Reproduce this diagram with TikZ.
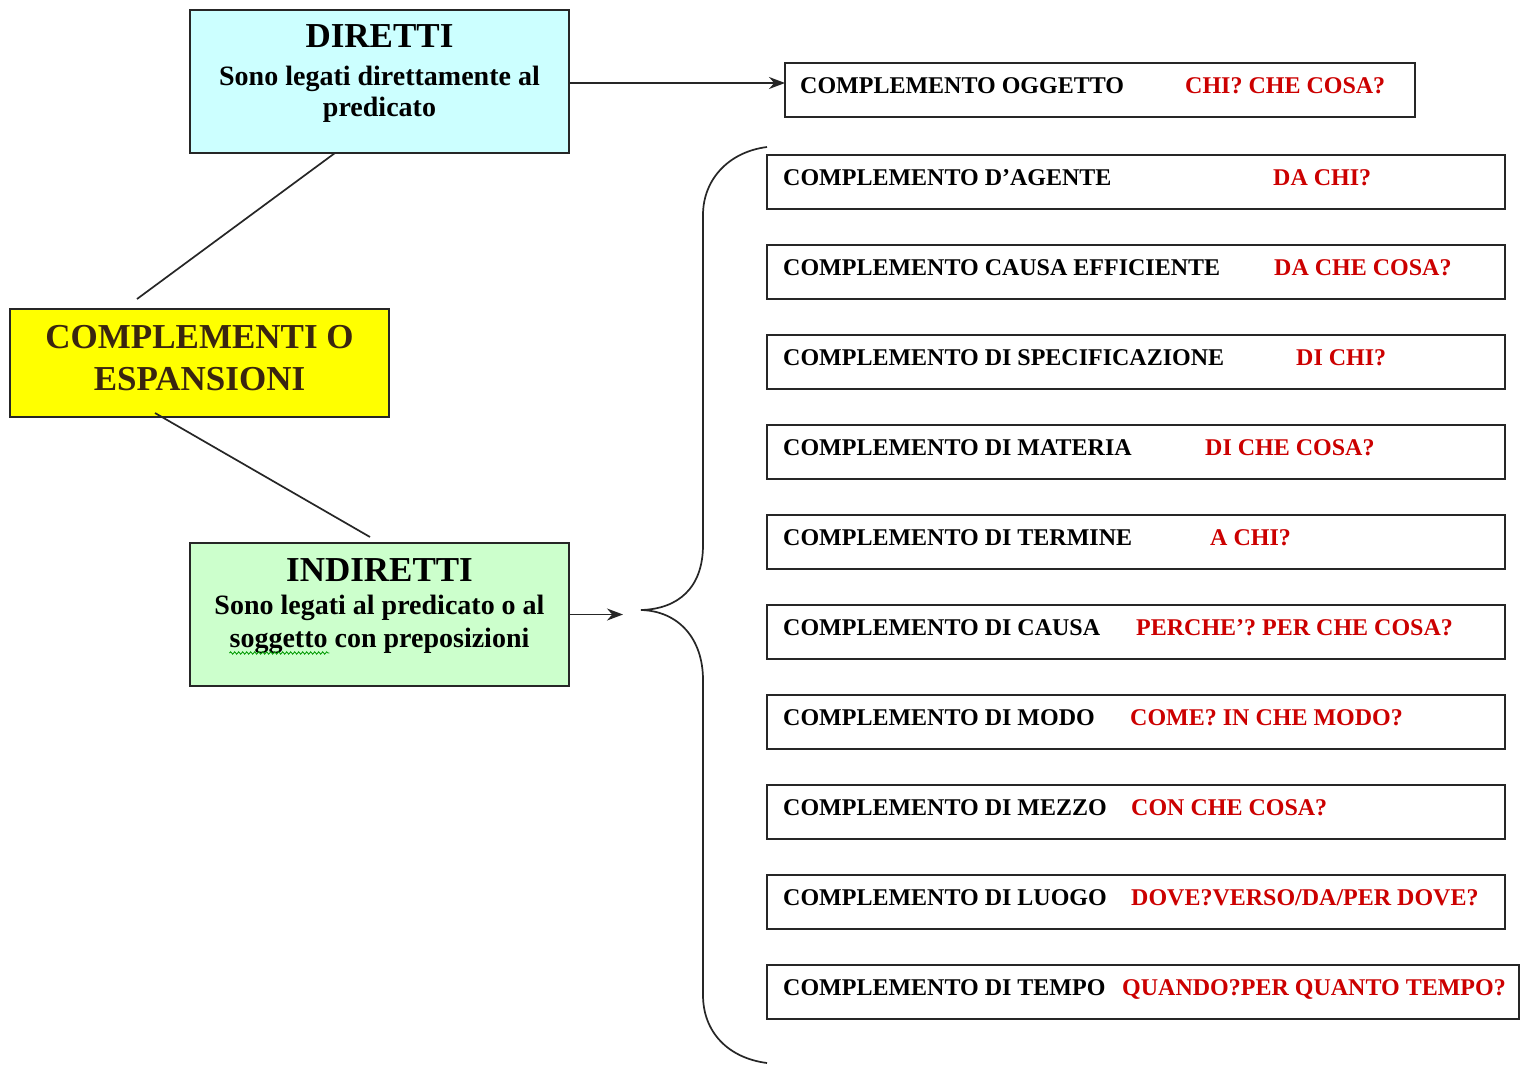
\documentclass[tikz,border=0pt]{standalone}
\usepackage{fontspec}
\setmainfont{Liberation Serif}
\usetikzlibrary{arrows.meta,decorations.pathmorphing}
\definecolor{cyanbox}{HTML}{CCFFFF}
\definecolor{greenbox}{HTML}{CCFFCC}
\definecolor{yellowbox}{HTML}{FFFF00}
\definecolor{qred}{HTML}{CC0000}
\definecolor{brownt}{HTML}{3A2510}
\newcommand\myTitleFont{\fontsize{35}{40}\selectfont\bfseries}
\newcommand\mySubFont{\fontsize{28}{32}\selectfont\bfseries}
\newcommand\myBoxFont{\fontsize{24}{28}\selectfont\bfseries}
\begin{document}
\begin{tikzpicture}[x=1pt,y=-1pt,
 bigbox/.style={draw=black!85, line width=2pt, anchor=north west, inner sep=0pt, outer sep=0pt},
 cbox/.style={draw=black!85, line width=2pt, anchor=north west, minimum height=54pt, inner sep=0pt, outer sep=0pt},
 lab/.style={anchor=base west, inner sep=0pt, font=\myBoxFont},
 qlab/.style={anchor=base west, inner sep=0pt, font=\myBoxFont, text=qred},
 ctext/.style={anchor=base, inner sep=0pt},
 conn/.style={line width=1.7pt, draw=black!85},
 arr/.style={conn, -{Stealth[length=16pt,width=12pt]}}]
\useasboundingbox[fill=white] (0,0) rectangle (1520,1065);

% left boxes
\node[bigbox, fill=cyanbox, minimum width=379pt, minimum height=143pt] (dir) at (190,10) {};
\node[bigbox, fill=yellowbox, minimum width=379pt, minimum height=108pt] (yel) at (10,309) {};
\node[bigbox, fill=greenbox, minimum width=379pt, minimum height=143pt] (ind) at (190,543) {};

\node[ctext, font=\myTitleFont] (dirT) at (379.5,48) {DIRETTI};
\node[ctext, font=\mySubFont] (dirS1) at (379.5,85) {Sono legati direttamente al};
\node[ctext, font=\mySubFont] (dirS2) at (379.5,116) {predicato};
\node[ctext, font=\myTitleFont, text=brownt] (yelT1) at (199.5,348) {COMPLEMENTI O};
\node[ctext, font=\myTitleFont, text=brownt] (yelT2) at (199.5,390) {ESPANSIONI};
\node[ctext, font=\myTitleFont] (indT) at (379.5,581) {INDIRETTI};
\node[ctext, font=\mySubFont] (indS1) at (379.5,614) {Sono legati al predicato o al};
\node[ctext, font=\mySubFont] (indS2) at (379.5,647) {soggetto con preposizioni};
\draw[green!60!black, line width=0.8pt, decorate, decoration={snake, amplitude=1.2pt, segment length=4pt}]
  ([yshift=-6pt]indS2.base west) -- ++(100,0);

% right boxes
\node[cbox, minimum width=630pt] (b0) at (785,63) {};
\node[lab] (b0a) at (800,93) {COMPLEMENTO OGGETTO};
\node[qlab] (b0q) at (1185,93) {CHI? CHE COSA?};

\node[cbox, minimum width=738pt] (b1) at (767,155) {};
\node[lab] (b1a) at (783,185) {COMPLEMENTO D’AGENTE};
\node[qlab] (b1q) at (1273,185) {DA CHI?};

\node[cbox, minimum width=738pt] (b2) at (767,245) {};
\node[lab] (b2a) at (783,275) {COMPLEMENTO CAUSA EFFICIENTE};
\node[qlab] (b2q) at (1274,275) {DA CHE COSA?};

\node[cbox, minimum width=738pt] (b3) at (767,335) {};
\node[lab] (b3a) at (783,365) {COMPLEMENTO DI SPECIFICAZIONE};
\node[qlab] (b3q) at (1296,365) {DI CHI?};

\node[cbox, minimum width=738pt] (b4) at (767,425) {};
\node[lab] (b4a) at (783,455) {COMPLEMENTO DI MATERIA};
\node[qlab] (b4q) at (1205,455) {DI CHE COSA?};

\node[cbox, minimum width=738pt] (b5) at (767,515) {};
\node[lab] (b5a) at (783,545) {COMPLEMENTO DI TERMINE};
\node[qlab] (b5q) at (1210,545) {A CHI?};

\node[cbox, minimum width=738pt] (b6) at (767,605) {};
\node[lab] (b6a) at (783,635) {COMPLEMENTO DI CAUSA};
\node[qlab] (b6q) at (1136,635) {PERCHE’? PER CHE COSA?};

\node[cbox, minimum width=738pt] (b7) at (767,695) {};
\node[lab] (b7a) at (783,725) {COMPLEMENTO DI MODO};
\node[qlab] (b7q) at (1130,725) {COME? IN CHE MODO?};

\node[cbox, minimum width=738pt] (b8) at (767,785) {};
\node[lab] (b8a) at (783,815) {COMPLEMENTO DI MEZZO};
\node[qlab] (b8q) at (1131,815) {CON CHE COSA?};

\node[cbox, minimum width=738pt] (b9) at (767,875) {};
\node[lab] (b9a) at (783,905) {COMPLEMENTO DI LUOGO};
\node[qlab] (b9q) at (1131,905) {DOVE?VERSO/DA/PER DOVE?};

\node[cbox, minimum width=752pt] (b10) at (767,965) {};
\node[lab] (b10a) at (783,995) {COMPLEMENTO DI TEMPO};
\node[qlab] (b10q) at (1122,995) {QUANDO?PER QUANTO TEMPO?};

% connectors
\draw[conn] ([xshift=-44.5pt]dir.south) -- ([xshift=-62.5pt,yshift=10pt]yel.north);
\draw[conn] ([xshift=-44.5pt,yshift=4pt]yel.south) -- ([xshift=-9.5pt,yshift=6pt]ind.north);
\draw[arr] ([yshift=-1.5pt]dir.east) -- ([yshift=-1.5pt]dir.east -| b0.west);
\coordinate (tip) at (623,614.5);
\draw[arr] (ind.east) -- (tip);

% brace
\draw[conn] (767,147) .. controls (728,152) and (703,180) .. (703,215)
  -- (703,545) .. controls (703,588) and (678,609) .. (641,610)
  .. controls (678,611) and (703,638) .. (703,680)
  -- (703,995) .. controls (703,1032) and (728,1058) .. (767,1063);
\end{tikzpicture}
\end{document}
